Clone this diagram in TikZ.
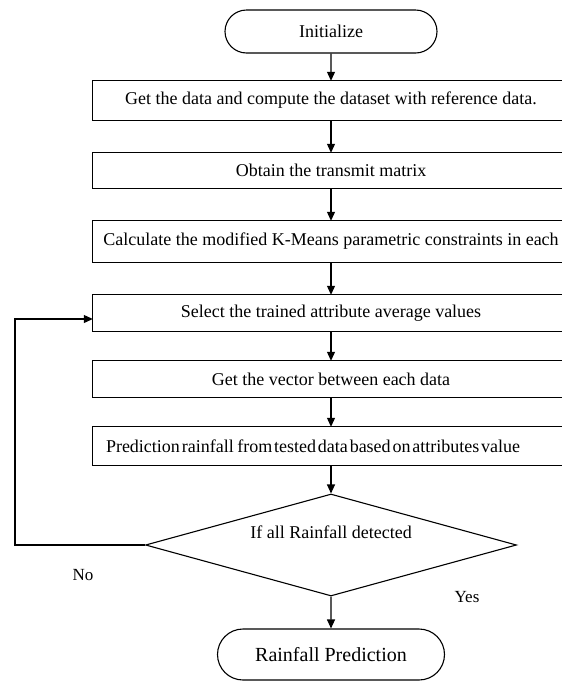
\documentclass[tikz,border=0pt]{standalone}
\usepackage{fontspec}
\setmainfont{Liberation Serif}
\usetikzlibrary{shapes.geometric,shapes.misc,arrows.meta}

\begin{document}
\begin{tikzpicture}[x=1pt,y=-1pt,
		box/.style={minimum width=476pt, inner sep=0pt, font=\fontsize{18}{21}\selectfont},
		term/.style={draw, line width=1.1pt, rounded rectangle, inner sep=0pt},
		pfeil/.style={-{Triangle[length=9pt,width=8pt]}, line width=1.1pt}] % ablauf
			\useasboundingbox (0,0) rectangle (562,681);
			\clip (0,0) rectangle (562,681);

			\node[term, minimum width=212pt, minimum height=43pt, font=\fontsize{18}{21}\selectfont] (init) at (331,31.5) {Initialize};
			\node[box, minimum height=39pt] (get) at (331,100.5) {Get the data and compute the dataset with reference data.};
			\node[box, minimum height=35pt] (obt) at (331,170.5) {Obtain the transmit matrix};
			\node[box, minimum height=41pt] (calc) at (331,241.5) {Calculate the modified K-Means parametric constraints in each};
			\node[box, minimum height=36pt] (sel) at (331,313) {Select the trained attribute average values};
			\node[box, minimum height=36pt] (vec) at (331,379) {Get the vector between each data};
			\node[box, minimum height=38pt, text width=450pt, inner xsep=13pt, align=left] (pred) at (331,446) {{\spaceskip=0.1em\relax Prediction rainfall\ \ from tested data based on attributes value}};
			% kasten rechts ueber den rand hinaus
			\foreach \n in {get,obt,calc,sel,vec,pred}
				\draw[line width=1.1pt] (\n.north west) rectangle ([xshift=40pt]\n.south east);
			\node[draw, line width=1.1pt, diamond, minimum width=371pt, minimum height=102pt, inner sep=0pt,
				label={[yshift=13pt, font=\fontsize{18}{21}\selectfont]center:If all Rainfall detected}] (dec) at (331,545) {};
			\node[term, minimum width=227pt, minimum height=51pt, font=\fontsize{20}{24}\selectfont] (rain) at (331,654.5) {Rainfall Prediction};

			\node[font=\fontsize{17}{20}\selectfont] (no) at (83,575) {No};
			\node[font=\fontsize{17}{20}\selectfont] (yes) at (467,597) {Yes};

			\draw[pfeil] (init) -- (get);
			\draw[pfeil] (get) -- (obt);
			\draw[pfeil] (obt) -- (calc);
			\draw[pfeil] (calc) -- (sel);
			\draw[pfeil] (sel) -- (vec);
			\draw[pfeil] (vec) -- (pred);
			\draw[pfeil] (pred) -- (dec);
			\draw[pfeil] (dec) -- (rain);
			\draw[pfeil] (dec.west) -- ++(-130,0) |- ([yshift=-6pt]sel.west);
		\end{tikzpicture}
\end{document}
